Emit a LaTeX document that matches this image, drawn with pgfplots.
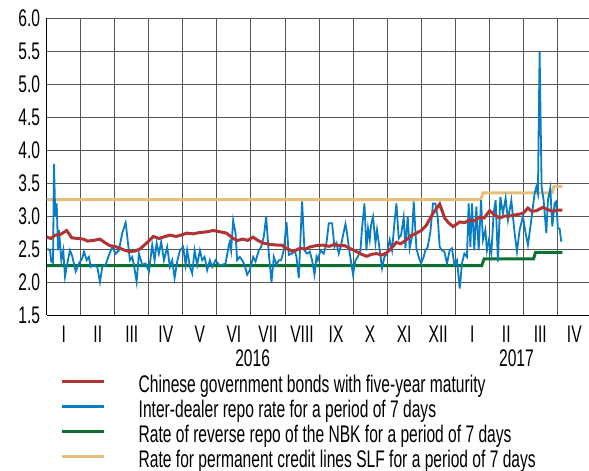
\documentclass[border=0pt]{standalone}
\usepackage{pgfplots}
\pgfplotsset{compat=1.18}
\usepackage{fontspec}
\setmainfont{Liberation Sans}[FakeStretch=0.65]
\definecolor{bondred}{RGB}{176,52,52}
\definecolor{repoblue}{RGB}{8,124,196}
\definecolor{nbkgreen}{RGB}{14,112,48}
\definecolor{slfgold}{RGB}{228,190,122}
\definecolor{gridgray}{RGB}{85,85,85}
\begin{document}
\begin{tikzpicture}
\useasboundingbox (0,0) rectangle (589pt,471pt);
\begin{axis}[
    at={(46.7pt,156pt)}, anchor=south west,
    scale only axis, width=542.3pt, height=297pt,
    xmin=0, xmax=15.93, ymin=1.5, ymax=6.0,
    axis x line*=bottom, axis y line*=left,
    axis line style={black, line width=1pt, -},
    clip=false,
    font=\fontsize{24}{27}\selectfont,
    /pgf/number format/assume math mode=true,
    xtick={0.5,1.5,...,15.5},
    xticklabels={I,II,III,IV,V,VI,VII,VIII,IX,X,XI,XII,I,II,III,IV},
    minor xtick={1,...,15},
    xminorgrids=true, xmajorgrids=false,
    ytick={1.5,2.0,...,6.0},
    ymajorgrids=true,
    major tick length=0pt, minor tick length=0pt,
    grid style={gridgray, line width=1pt},
    minor grid style={gridgray, line width=1pt},
    xticklabel style={anchor=base, yshift=-27pt},
    yticklabel style={/pgf/number format/fixed, /pgf/number format/fixed zerofill, /pgf/number format/precision=1, anchor=east, xshift=-3pt},
    legend style={at={(0.0245,-0.215)}, anchor=north west, draw=none, fill=none, inner sep=0pt,
        row sep=8pt, nodes={inner xsep=3pt, inner ysep=0pt, text height=13pt, text depth=4pt},
        font=\fontsize{24}{27}\selectfont},
    legend cell align=left,
    legend image code/.code={\path[draw=none,fill=none] (0pt,0pt) -- (74pt,0pt); \draw[#1, line width=3pt] (0pt,6pt) -- (42pt,6pt);},
]
\addplot[slfgold, line width=3pt, forget plot] coordinates {(0,3.25) (12.75,3.25) (12.82,3.35) (14.85,3.35) (14.9,3.45) (15.15,3.45)};
\addplot[nbkgreen, line width=3pt, forget plot] coordinates {(0,2.25) (12.78,2.25) (12.85,2.35) (14.30,2.35) (14.36,2.45) (15.15,2.45)};
\addplot[repoblue, line width=1.8pt, forget plot] coordinates {
(0.018,2.50) (0.097,2.48) (0.135,2.31) (0.185,2.29) (0.214,3.79) (0.252,2.99) (0.294,3.19) (0.332,2.48)
(0.361,2.79) (0.429,2.33) (0.487,2.48) (0.537,2.08) (0.605,2.28) (0.684,2.48) (0.751,2.39) (0.851,2.16)
(0.948,2.28) (1.045,2.36) (1.095,2.46) (1.174,2.33) (1.242,2.38) (1.291,2.23) (1.388,2.26) (1.485,2.23)
(1.564,2.00) (1.632,2.23) (1.732,2.26) (1.829,2.41) (1.925,2.53) (2.025,2.43) (2.122,2.48) (2.219,2.74)
(2.319,2.90) (2.366,2.69) (2.445,2.33) (2.513,2.38) (2.562,2.26) (2.642,2.00) (2.709,2.43) (2.806,2.26)
(2.906,2.28) (3.003,2.16) (3.099,2.56) (3.170,2.33) (3.229,2.59) (3.296,2.43) (3.364,2.61) (3.443,2.33)
(3.540,2.53) (3.619,2.23) (3.687,2.33) (3.757,2.06) (3.833,2.31) (3.913,2.48) (4.009,2.53) (4.080,2.26)
(4.127,2.48) (4.206,2.23) (4.274,2.13) (4.344,2.48) (4.420,2.26) (4.500,2.48) (4.567,2.33) (4.638,2.38)
(4.714,2.18) (4.793,2.33) (4.861,2.23) (4.960,2.33) (5.057,2.26) (5.154,2.26) (5.254,2.28) (5.351,2.56)
(5.380,2.61) (5.418,2.48) (5.477,2.93) (5.547,2.74) (5.594,2.33) (5.674,2.38) (5.741,2.33) (5.812,2.26)
(5.888,2.11) (5.967,2.18) (6.064,2.38) (6.134,2.31) (6.231,2.48) (6.299,2.53) (6.378,2.69) (6.446,2.99)
(6.525,2.43) (6.604,2.00) (6.672,2.38) (6.751,2.26) (6.818,2.33) (6.886,2.33) (6.965,2.48) (7.044,2.91)
(7.112,2.41) (7.209,2.43) (7.279,2.48) (7.338,2.38) (7.405,2.06) (7.502,3.22) (7.573,2.48) (7.649,2.43)
(7.728,2.46) (7.796,2.33) (7.866,2.11) (7.925,2.38) (7.963,2.33) (8.042,2.48) (8.139,2.43) (8.218,2.59)
(8.286,2.89) (8.383,2.89) (8.453,2.53) (8.512,2.59) (8.579,2.43) (8.647,2.56) (8.726,2.76) (8.776,2.88)
(8.823,2.74) (8.873,2.53) (8.940,2.31) (8.999,2.11) (9.069,2.33) (9.137,2.38) (9.216,2.48) (9.263,2.81)
(9.334,3.19) (9.392,2.48) (9.439,2.81) (9.489,2.64) (9.527,2.86) (9.586,2.99) (9.657,2.59) (9.703,2.79)
(9.783,2.48) (9.850,2.21) (9.921,2.38) (9.997,2.43) (10.076,2.64) (10.144,2.48) (10.214,2.89) (10.273,3.19)
(10.341,2.66) (10.408,2.71) (10.487,2.98) (10.537,2.51) (10.605,2.99) (10.663,2.51) (10.731,2.69) (10.781,3.22)
(10.860,2.51) (10.927,2.38) (10.995,2.28) (11.074,2.38) (11.124,2.48) (11.192,2.53) (11.271,2.76) (11.347,3.19)
(11.418,3.19) (11.485,2.99) (11.544,2.53) (11.611,2.48) (11.682,2.46) (11.758,2.28) (11.837,2.48) (11.905,2.51)
(11.975,2.26) (12.052,2.33) (12.131,1.90) (12.198,2.28) (12.269,2.43) (12.345,2.38) (12.395,3.19) (12.445,2.53)
(12.492,3.19) (12.562,2.48) (12.621,3.14) (12.689,2.48) (12.760,3.24) (12.815,2.64) (12.885,2.79) (12.932,2.48)
(12.991,2.64) (13.061,2.43) (13.129,3.04) (13.188,3.24) (13.255,2.31) (13.326,3.29) (13.402,3.04) (13.481,3.27)
(13.549,2.94) (13.648,3.24) (13.745,2.74) (13.813,2.46) (13.892,2.79) (13.989,2.99) (14.068,2.74) (14.136,2.56)
(14.235,2.94) (14.332,3.34) (14.382,3.44) (14.429,3.34) (14.479,5.49) (14.538,3.44) (14.597,3.24) (14.676,2.74)
(14.723,3.24) (14.793,3.42) (14.852,2.84) (14.919,3.19) (14.969,3.22) (15.016,2.81) (15.066,2.81) (15.116,2.61)
};
\addplot[bondred, line width=3pt, forget plot] coordinates {
(0,2.68) (0.12,2.66) (0.244,2.71) (0.4,2.72) (0.587,2.78) (0.734,2.67) (0.9,2.66) (1.074,2.65) (1.2,2.62) (1.368,2.63) (1.564,2.65) (1.7,2.60) (1.858,2.55)
(2.0,2.54) (2.151,2.51) (2.3,2.48) (2.445,2.46) (2.6,2.47) (2.739,2.50) (2.935,2.59) (3.129,2.69) (3.3,2.66) (3.422,2.68) (3.619,2.71) (3.8,2.69) (4.0,2.72) (4.109,2.74)
(4.3,2.73) (4.500,2.75) (4.7,2.76) (4.890,2.78) (5.1,2.76) (5.283,2.74) (5.477,2.66) (5.6,2.63) (5.770,2.65) (5.9,2.63) (6.064,2.68) (6.2,2.63) (6.358,2.59) (6.55,2.57) (6.751,2.56)
(6.9,2.56) (7.044,2.51) (7.238,2.46) (7.435,2.51) (7.6,2.50) (7.728,2.53) (7.9,2.55) (8.119,2.56) (8.3,2.54) (8.45,2.57) (8.609,2.55) (8.75,2.55) (8.902,2.51) (9.099,2.46)
(9.25,2.42) (9.392,2.39) (9.55,2.42) (9.686,2.43) (9.85,2.41) (9.980,2.44) (10.1,2.50) (10.273,2.60) (10.4,2.58) (10.567,2.64) (10.7,2.70) (10.860,2.74) (11.0,2.78) (11.153,2.86) (11.347,3.04)
(11.544,3.18) (11.691,2.97) (11.8,2.90) (11.934,2.84) (12.05,2.88) (12.131,2.91) (12.28,2.90) (12.424,2.94) (12.57,2.93) (12.718,2.98) (12.85,2.97) (13.011,3.08) (13.15,3.02) (13.305,2.97)
(13.45,3.00) (13.598,3.00) (13.8,3.02) (13.989,3.04) (14.136,3.12) (14.25,3.07) (14.382,3.08) (14.576,3.13) (14.7,3.10) (14.870,3.07) (15.0,3.09) (15.145,3.09)
};
\addlegendimage{bondred}
\addlegendentry{Chinese government bonds with five-year maturity}
\addlegendimage{repoblue}
\addlegendentry{Inter-dealer repo rate for a period of 7 days}
\addlegendimage{nbkgreen}
\addlegendentry{Rate of reverse repo of the NBK for a period of 7 days}
\addlegendimage{slfgold}
\addlegendentry{Rate for permanent credit lines SLF for a period of 7 days}
\node[anchor=base, yshift=-51pt] at (axis cs:6.05,1.5) {2016};
\node[anchor=base, yshift=-51pt] at (axis cs:13.8,1.5) {2017};
\end{axis}
\end{tikzpicture}
\end{document}
